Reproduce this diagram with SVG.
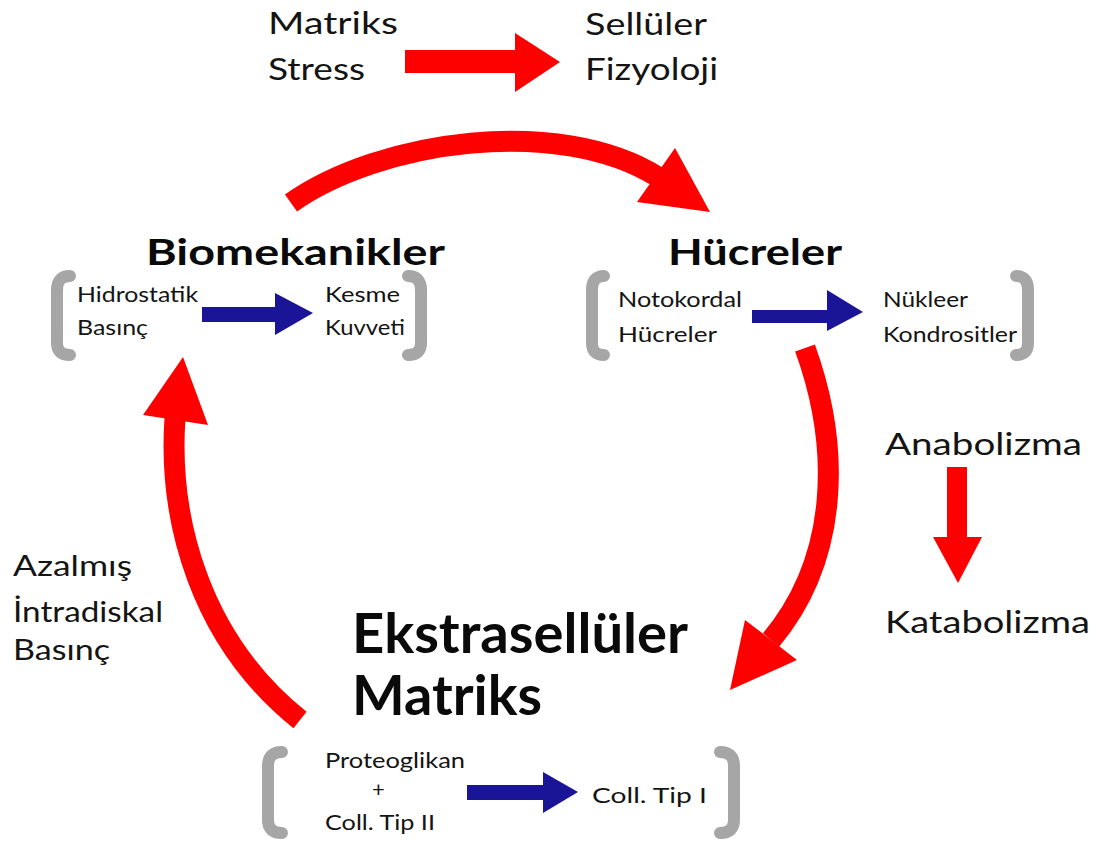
<svg xmlns="http://www.w3.org/2000/svg" width="1103" height="843" viewBox="0 0 1103 843">
<style>
text{font-family:Lato,"Open Sans","Liberation Sans",sans-serif;fill:#141414}
.t31{font-size:31px}
.t30{font-size:30px}
.t28{font-size:28px}
.sm{font-size:21px}
.sm2{font-size:22px}
.h37{font-size:37px;font-weight:bold;fill:#0a0a0a}
.h55{font-size:55px;font-weight:bold;fill:#0a0a0a}
.br{fill:none;stroke:#a6a6a6;stroke-width:12;stroke-linecap:round;stroke-linejoin:round}
.rs{fill:none;stroke:#ff0000;stroke-linecap:butt}
.rh{fill:#ff0000}
.bh{fill:#1a1496}
</style>
<rect width="1103" height="843" fill="#ffffff"/>

<g id="node-matriks-stress">
<text class="t31" x="268" y="34" textLength="130" lengthAdjust="spacingAndGlyphs">Matriks</text>
<text class="t31" x="268" y="80" textLength="97" lengthAdjust="spacingAndGlyphs">Stress</text>
</g>
<g id="node-selluler-fizyoloji">
<text class="t31" x="585" y="35" textLength="122" lengthAdjust="spacingAndGlyphs">Sellüler</text>
<text class="t31" x="585" y="80" textLength="133" lengthAdjust="spacingAndGlyphs">Fizyoloji</text>
</g>

<g id="node-biomekanikler">
<text class="h37" x="146" y="265" textLength="299" lengthAdjust="spacingAndGlyphs">Biomekanikler</text>
<path class="br" d="M70 276 Q57 276 57 290 L57 343 Q57 355 70 355"/>
<path class="br" d="M408 276 Q421 276 421 290 L421 343 Q421 355 408 355"/>
<text class="sm" x="77" y="302" textLength="121" lengthAdjust="spacingAndGlyphs">Hidrostatik</text>
<text class="sm" x="77" y="335" textLength="71" lengthAdjust="spacingAndGlyphs">Basınç</text>
<text class="sm" x="325" y="302" textLength="75" lengthAdjust="spacingAndGlyphs">Kesme</text>
<text class="sm" x="325" y="335" textLength="80" lengthAdjust="spacingAndGlyphs">Kuvveti</text>
</g>

<g id="node-hucreler">
<text class="h37" x="668" y="265" textLength="174" lengthAdjust="spacingAndGlyphs">Hücreler</text>
<path class="br" d="M604 276 Q592 276 592 290 L592 343 Q592 355 604 355"/>
<path class="br" d="M1016 276 Q1028 276 1028 290 L1028 343 Q1028 355 1016 355"/>
<text class="sm" x="618" y="307" textLength="124" lengthAdjust="spacingAndGlyphs">Notokordal</text>
<text class="sm" x="618" y="342" textLength="99" lengthAdjust="spacingAndGlyphs">Hücreler</text>
<text class="sm" x="883" y="307" textLength="85" lengthAdjust="spacingAndGlyphs">Nükleer</text>
<text class="sm" x="883" y="342" textLength="134" lengthAdjust="spacingAndGlyphs">Kondrositler</text>
</g>

<g id="node-anabolizma">
<text class="t30" x="885" y="455" textLength="197" lengthAdjust="spacingAndGlyphs">Anabolizma</text>
</g>
<g id="node-katabolizma">
<text class="t30" x="885" y="633" textLength="205" lengthAdjust="spacingAndGlyphs">Katabolizma</text>
</g>

<g id="node-azalmis">
<text class="t28" x="13" y="576" textLength="119" lengthAdjust="spacingAndGlyphs">Azalmış</text>
<text class="t28" x="13" y="622" textLength="150" lengthAdjust="spacingAndGlyphs">İntradiskal</text>
<text class="t28" x="13" y="660" textLength="97" lengthAdjust="spacingAndGlyphs">Basınç</text>
</g>

<g id="node-ekstrasel">
<text class="h55" x="352" y="653" textLength="336" lengthAdjust="spacingAndGlyphs">Ekstrasellüler</text>
<text class="h55" x="352" y="715" textLength="190" lengthAdjust="spacingAndGlyphs">Matriks</text>
<path class="br" d="M282 752 Q268 752 268 766 L268 820 Q268 833 282 833"/>
<path class="br" d="M720 752 Q734 752 734 766 L734 820 Q734 833 720 833"/>
<text class="sm2" x="325" y="768" textLength="140" lengthAdjust="spacingAndGlyphs">Proteoglikan</text>
<text class="sm2" x="372" y="797">+</text>
<text class="sm2" x="325" y="830" textLength="110" lengthAdjust="spacingAndGlyphs">Coll. Tip II</text>
<text class="sm2" x="592" y="803" textLength="115" lengthAdjust="spacingAndGlyphs">Coll. Tip I</text>
</g>

<g id="connectors">
<!-- top straight red arrow -->
<rect class="rh" x="405" y="50" width="112" height="23"/>
<polygon class="rh" points="515,33 515,92 560,62"/>
<!-- top curved arrow: Biomekanikler -> Hücreler -->
<path class="rs" stroke-width="21" d="M291 203 C380 140 560 115 658 177"/>
<polygon class="rh" points="637,202 675,148 710,212"/>
<!-- right curved arrow: Hücreler -> Ekstrasellüler Matriks -->
<path class="rs" stroke-width="21" d="M805 348 C842 450 838 560 771 640"/>
<polygon class="rh" points="745,620 797,660 730,690"/>
<!-- left curved arrow: Ekstrasellüler Matriks -> Biomekanikler -->
<path class="rs" stroke-width="21" d="M300 720 C200 640 168 520 175 418"/>
<polygon class="rh" points="143,415 183,357 208,425"/>
<!-- Anabolizma -> Katabolizma -->
<rect class="rh" x="947" y="467" width="20" height="72"/>
<polygon class="rh" points="933,537 982,537 958,583"/>
<!-- blue arrows -->
<rect class="bh" x="202" y="307" width="75" height="15"/>
<polygon class="bh" points="275,293 275,335 313,313"/>
<rect class="bh" x="752" y="310" width="77" height="13"/>
<polygon class="bh" points="827,290 827,331 863,312"/>
<rect class="bh" x="467" y="785" width="78" height="15"/>
<polygon class="bh" points="543,772 543,813 578,792"/>
</g>
</svg>
